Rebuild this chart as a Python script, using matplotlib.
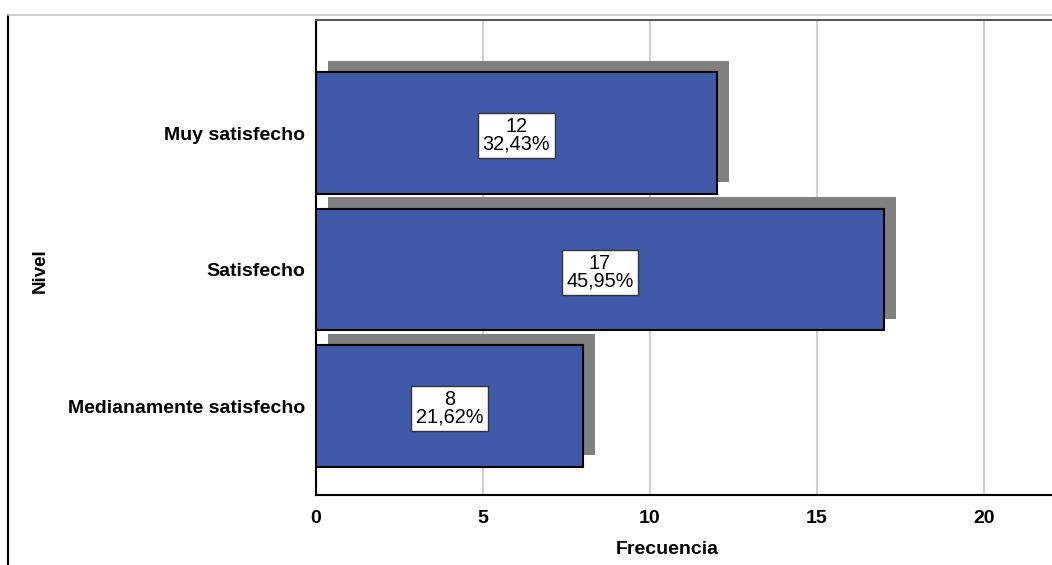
import matplotlib
matplotlib.use("Agg")
import matplotlib.pyplot as plt
import matplotlib.patheffects as pe
from matplotlib.lines import Line2D

categories = ["Medianamente satisfecho", "Satisfecho", "Muy satisfecho"]
counts = [8, 17, 12]
percents = ["21,62%", "45,95%", "32,43%"]
xticks = [0, 5, 10, 15, 20]

plt.rcParams['font.family'] = ['Liberation Sans', 'DejaVu Sans']

fig = plt.figure(figsize=(10.52, 5.65), dpi=100)
ax = fig.add_axes([316/1052, 1-495/565, 1-316/1052, (495-20)/565])

pos = list(range(len(categories)))
bars = ax.barh(pos, counts, height=0.89, color='#3F5AA8', edgecolor='black', linewidth=1.5, zorder=3)
for b in bars:
    b.set_path_effects([pe.SimplePatchShadow(offset=(8.6, 8.2), shadow_rgbFace='#808080', alpha=1.0), pe.Normal()])

for p, c, pc in zip(pos, counts, percents):
    ax.text(c/2, p - 0.02, f"{c}\n{pc}", ha='center', va='center', fontsize=14.3,
            linespacing=0.9, zorder=5,
            bbox=dict(boxstyle='square,pad=0.22', fc='white', ec='#333333', lw=1))

ax.set_xlim(0, 22.04)
ax.set_ylim(-0.652, 2.828)
ax.set_yticks(pos)
ax.set_yticklabels(categories, fontsize=14, fontweight='bold')
ax.set_xticks(xticks)
ax.set_xticklabels([str(t) for t in xticks], fontsize=14, fontweight='bold')
ax.tick_params(axis='both', length=0)
ax.tick_params(axis='y', pad=8)
ax.tick_params(axis='x', pad=11)
ax.xaxis.grid(True, color='#d0d0d0', linewidth=1.5, zorder=0)
ax.set_axisbelow(True)

for s in ['left', 'bottom']:
    ax.spines[s].set_color('black')
    ax.spines[s].set_linewidth(1.5)
ax.spines['top'].set_color('#555555')
ax.spines['top'].set_linewidth(1.5)
ax.spines['right'].set_visible(False)

ax.set_xlabel("Frecuencia", fontsize=14, fontweight='bold')
ax.xaxis.set_label_coords((667-316)/(1052-316), -(550-495)/475)
ax.set_ylabel("Nivel", fontsize=13.5, fontweight='bold')
ax.yaxis.set_label_coords(-(316-40)/(1052-316), (495-271)/475)
ax.xaxis.label.set_va('center')
ax.yaxis.label.set_va('center')

fig.add_artist(Line2D([7.5/1052, 7.5/1052], [0, 1-15/565], color='black', lw=1.5, transform=fig.transFigure))
fig.add_artist(Line2D([7.5/1052, 1], [1-15/565, 1-15/565], color='#c4c4c4', lw=1.2, transform=fig.transFigure))

fig.savefig("out.png", dpi=100)
